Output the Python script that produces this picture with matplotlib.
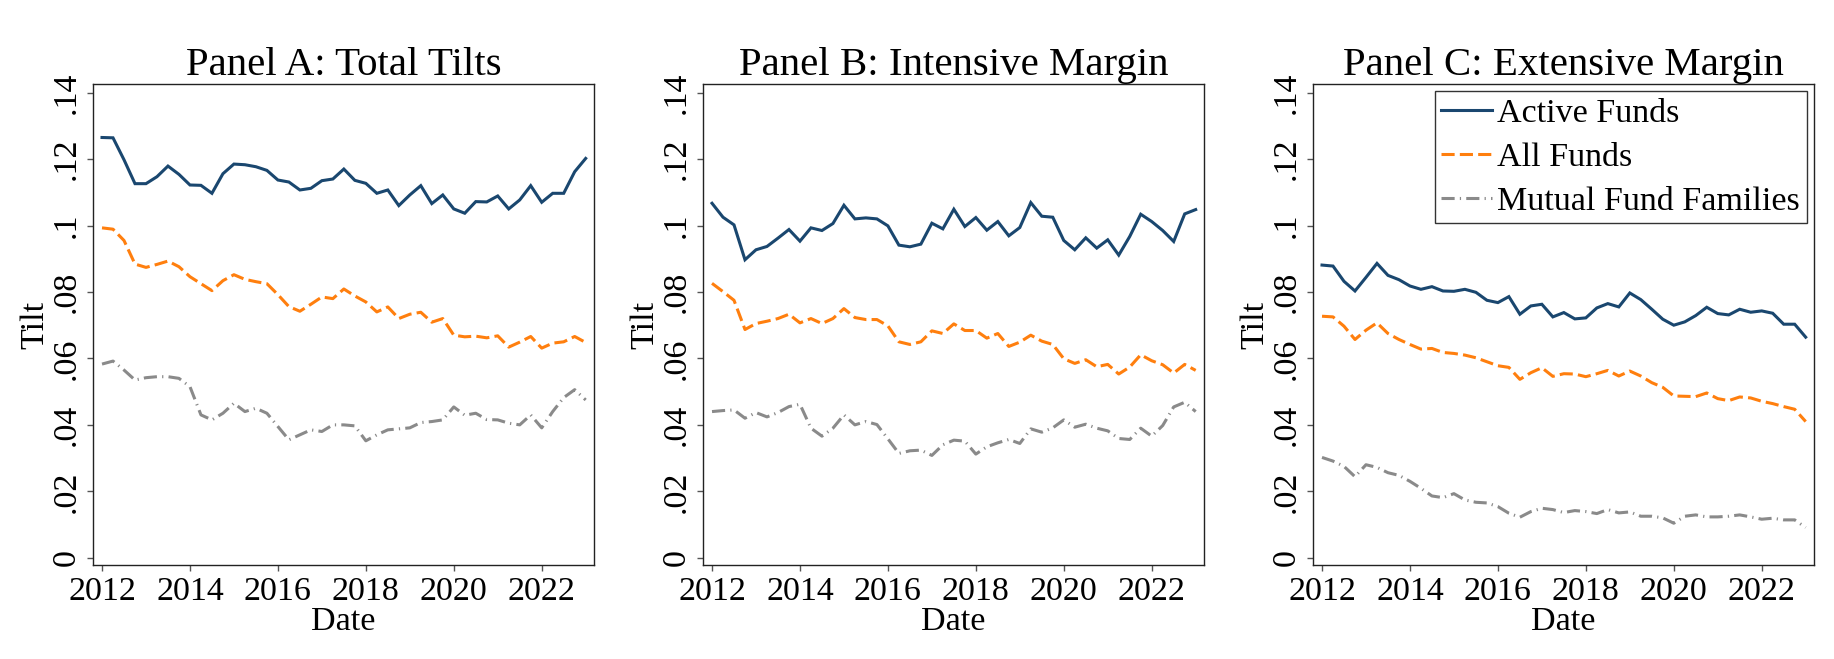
import matplotlib
matplotlib.use('Agg')
import matplotlib.pyplot as plt
import numpy as np

plt.rcParams['font.family'] = ['Liberation Serif', 'DejaVu Serif']
plt.rcParams['font.size'] = 24.5

# quarterly observations, 2012Q1 .. 2023Q1
dates = 2012 + np.arange(45) / 4

titles = ['Panel A: Total Tilts', 'Panel B: Intensive Margin', 'Panel C: Extensive Margin']
series_names = ['Active Funds', 'All Funds', 'Mutual Fund Families']

active_a = [0.1265, 0.1264, 0.1198, 0.1126, 0.1126, 0.1147, 0.1179, 0.1154, 0.1122, 0.1121,
            0.1097, 0.1156, 0.1185, 0.1183, 0.1177, 0.1166, 0.1137, 0.1131, 0.1107, 0.1112,
            0.1135, 0.1140, 0.1170, 0.1136, 0.1127, 0.1097, 0.1107, 0.1060, 0.1092, 0.1120,
            0.1066, 0.1092, 0.1050, 0.1037, 0.1072, 0.1071, 0.1089, 0.1050, 0.1077, 0.1120,
            0.1070, 0.1097, 0.1097, 0.1162, 0.1202]
all_a = [0.0993, 0.0989, 0.0955, 0.0884, 0.0874, 0.0883, 0.0893, 0.0876, 0.0846, 0.0825,
         0.0804, 0.0834, 0.0852, 0.0838, 0.0831, 0.0825, 0.0792, 0.0756, 0.0742, 0.0763,
         0.0785, 0.0780, 0.0809, 0.0788, 0.0770, 0.0740, 0.0755, 0.0720, 0.0733, 0.0739,
         0.0709, 0.0720, 0.0670, 0.0665, 0.0667, 0.0662, 0.0668, 0.0634, 0.0649, 0.0666,
         0.0631, 0.0646, 0.0650, 0.0666, 0.0648]
family_a = [0.0583, 0.0592, 0.0565, 0.0535, 0.0542, 0.0545, 0.0545, 0.0540, 0.0515, 0.0430,
            0.0415, 0.0435, 0.0465, 0.0440, 0.0450, 0.0435, 0.0395, 0.0355, 0.0370, 0.0385,
            0.0380, 0.0400, 0.0400, 0.0397, 0.0352, 0.0370, 0.0385, 0.0388, 0.0391, 0.0407,
            0.0410, 0.0415, 0.0454, 0.0429, 0.0435, 0.0416, 0.0415, 0.0405, 0.0400, 0.0430,
            0.0391, 0.0440, 0.0482, 0.0506, 0.0475]

active_b = [0.1067, 0.1025, 0.1002, 0.0897, 0.0927, 0.0937, 0.0962, 0.0988, 0.0953, 0.0993,
            0.0985, 0.1006, 0.1061, 0.1020, 0.1023, 0.1020, 0.0999, 0.0941, 0.0936, 0.0944,
            0.1007, 0.0990, 0.1049, 0.0997, 0.1024, 0.0986, 0.1012, 0.0969, 0.0994, 0.1069,
            0.1028, 0.1025, 0.0955, 0.0927, 0.0963, 0.0932, 0.0957, 0.0911, 0.0967, 0.1034,
            0.1012, 0.0985, 0.0952, 0.1035, 0.1048]
all_b = [0.0826, 0.0801, 0.0775, 0.0687, 0.0705, 0.0712, 0.0720, 0.0733, 0.0707, 0.0720,
         0.0705, 0.0720, 0.0750, 0.0723, 0.0717, 0.0717, 0.0698, 0.0650, 0.0642, 0.0650,
         0.0683, 0.0675, 0.0704, 0.0684, 0.0684, 0.0661, 0.0675, 0.0636, 0.0649, 0.0670,
         0.0652, 0.0642, 0.0599, 0.0585, 0.0596, 0.0575, 0.0582, 0.0553, 0.0574, 0.0611,
         0.0593, 0.0581, 0.0556, 0.0582, 0.0564]
family_b = [0.0440, 0.0443, 0.0445, 0.0420, 0.0437, 0.0424, 0.0437, 0.0455, 0.0462, 0.0390,
            0.0366, 0.0390, 0.0430, 0.0400, 0.0410, 0.0401, 0.0358, 0.0314, 0.0322, 0.0324,
            0.0308, 0.0340, 0.0354, 0.0351, 0.0312, 0.0334, 0.0346, 0.0356, 0.0344, 0.0388,
            0.0378, 0.0391, 0.0415, 0.0393, 0.0402, 0.0390, 0.0382, 0.0359, 0.0356, 0.0390,
            0.0366, 0.0398, 0.0454, 0.0468, 0.0440]

active_c = [0.0881, 0.0878, 0.0832, 0.0803, 0.0844, 0.0886, 0.0850, 0.0837, 0.0818, 0.0808,
            0.0816, 0.0803, 0.0802, 0.0808, 0.0799, 0.0775, 0.0768, 0.0786, 0.0733, 0.0758,
            0.0763, 0.0725, 0.0738, 0.0719, 0.0722, 0.0752, 0.0765, 0.0755, 0.0797, 0.0777,
            0.0748, 0.0718, 0.0700, 0.0710, 0.0729, 0.0754, 0.0735, 0.0731, 0.0748, 0.0739,
            0.0743, 0.0736, 0.0703, 0.0703, 0.0664]
all_c = [0.0727, 0.0725, 0.0697, 0.0657, 0.0685, 0.0707, 0.0675, 0.0657, 0.0642, 0.0628,
         0.0630, 0.0618, 0.0615, 0.0610, 0.0602, 0.0590, 0.0578, 0.0573, 0.0537, 0.0557,
         0.0572, 0.0546, 0.0554, 0.0553, 0.0545, 0.0554, 0.0564, 0.0547, 0.0562, 0.0547,
         0.0527, 0.0513, 0.0487, 0.0486, 0.0485, 0.0496, 0.0479, 0.0473, 0.0484, 0.0481,
         0.0471, 0.0464, 0.0455, 0.0447, 0.0410]
family_c = [0.0302, 0.0291, 0.0275, 0.0244, 0.0280, 0.0272, 0.0256, 0.0248, 0.0230, 0.0209,
            0.0186, 0.0181, 0.0193, 0.0174, 0.0167, 0.0165, 0.0154, 0.0134, 0.0122, 0.0139,
            0.0149, 0.0145, 0.0136, 0.0142, 0.0139, 0.0133, 0.0145, 0.0135, 0.0138, 0.0125,
            0.0125, 0.0120, 0.0104, 0.0125, 0.0129, 0.0123, 0.0123, 0.0125, 0.0129, 0.0123,
            0.0116, 0.0119, 0.0114, 0.0114, 0.0091]

panels = [(active_a, all_a, family_a), (active_b, all_b, family_b), (active_c, all_c, family_c)]

colors = ['#1a476f', '#ff7f0e', '#8a8a8a']
dashes = [None, (4.3, 1.7), (4.3, 1.7, 0.4, 1.7)]

yticks = [0, 0.02, 0.04, 0.06, 0.08, 0.1, 0.12, 0.14]
ytick_labels = ['0', '.02', '.04', '.06', '.08', '.1', '.12', '.14']
xticks = [2012, 2014, 2016, 2018, 2020, 2022]

fig = plt.figure(figsize=(18.34, 6.59), dpi=100)
lefts = [93, 703, 1313]
W, H = 1834, 659

for k, (left, title, vals) in enumerate(zip(lefts, titles, panels)):
    ax = fig.add_axes([left / W, (H - 565.4) / H, 501.3 / W, 481.4 / H])
    for name, v, c, d in zip(series_names, vals, colors, dashes):
        line, = ax.plot(dates, v, color=c, lw=2.2, label=name, solid_joinstyle='miter')
        if d is not None:
            line.set_dashes(d)
    ax.set_xlim(2011.795, 2023.196)
    ax.set_ylim(-0.0023, 0.1426)
    ax.set_xticks(xticks)
    ax.set_yticks(yticks)
    ax.set_yticklabels(ytick_labels)
    for lab in ax.get_yticklabels():
        lab.set_rotation(90)
        lab.set_va('center')
    ax.tick_params(direction='out', length=4.3, width=1, color='#555555')
    ax.tick_params(axis='x', pad=3.6)
    ax.tick_params(axis='y', pad=3.5)
    for s in ax.spines.values():
        s.set_color('#222222')
        s.set_linewidth(1)
    ax.set_title(title, pad=4)
    ax.set_xlabel('Date', labelpad=0)
    ax.set_ylabel('Tilt', labelpad=1)
    if k == 2:
        leg = ax.legend(loc='upper right', fancybox=False, edgecolor='#333333',
                        framealpha=1, borderaxespad=0.22, borderpad=0.2,
                        labelspacing=0.38, handlelength=1.5, handletextpad=0.14)
        leg.get_frame().set_linewidth(1)

fig.savefig('out.png', dpi=100)
